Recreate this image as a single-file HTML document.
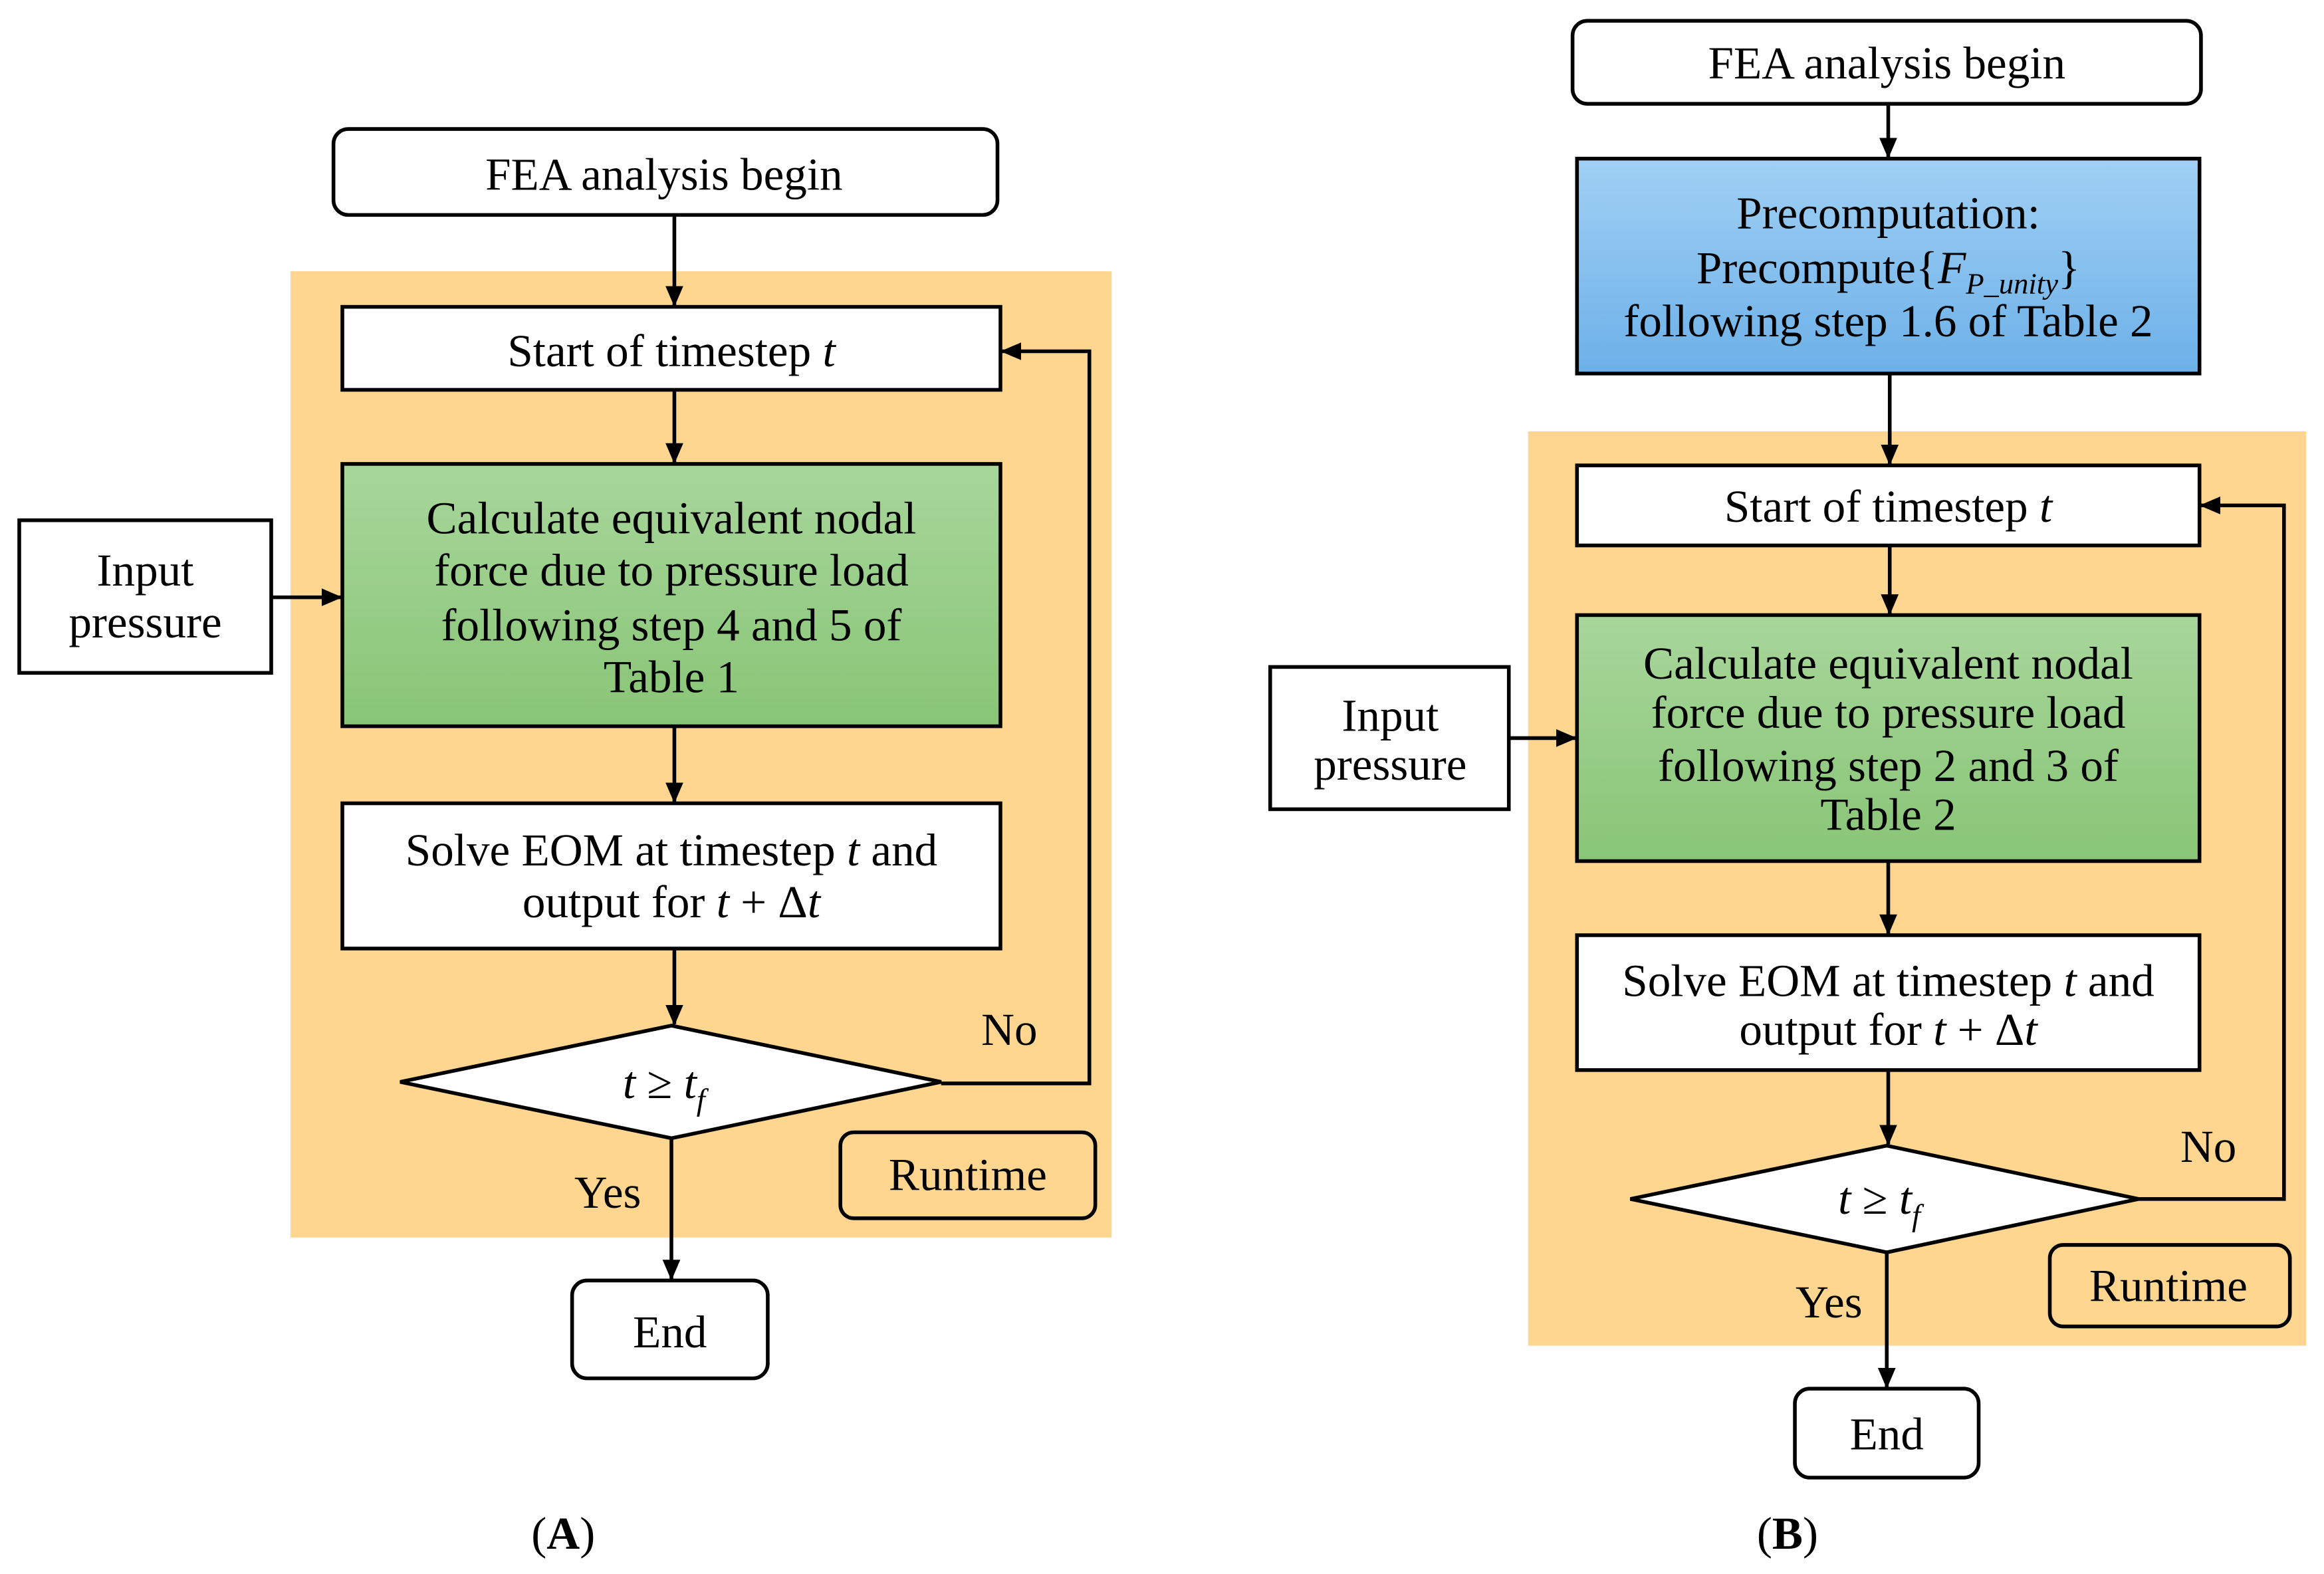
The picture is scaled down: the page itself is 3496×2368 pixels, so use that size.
<!DOCTYPE html>
<html><head><meta charset="utf-8"><style>
html,body{margin:0;padding:0;background:#fff;}
svg{display:block}
text{font-family:"Liberation Serif",serif;fill:#000}
</style></head><body>
<svg width="3496" height="2368" viewBox="0 0 1568 1062" xmlns="http://www.w3.org/2000/svg">
<defs>
<linearGradient id="g" x1="0" y1="0" x2="0" y2="1"><stop offset="0" stop-color="#A8D69B"/><stop offset="1" stop-color="#88C576"/></linearGradient>
<linearGradient id="b" x1="0" y1="0" x2="0" y2="1"><stop offset="0" stop-color="#A0D0F4"/><stop offset="1" stop-color="#6CB0E8"/></linearGradient>
<marker id="a" markerWidth="14" markerHeight="14" refX="13" refY="6" orient="auto" markerUnits="userSpaceOnUse"><path d="M0,0 L14,6 L0,12 z" fill="#000"/></marker>
</defs>
<g stroke="#000" stroke-width="2.5" fill="none">
<rect x="196" y="183" width="554" height="652" fill="#FED690" stroke="none"/>
<rect x="225" y="87" width="448" height="58" rx="10" fill="#fff"/>
<rect x="231" y="207" width="444" height="56" fill="#fff"/>
<rect x="231" y="313" width="444" height="177" fill="url(#g)"/>
<rect x="231" y="542" width="444" height="98" fill="#fff"/>
<polygon points="270,730 453,692 635,730 453,768" fill="#fff"/>
<rect x="567" y="764" width="172" height="58" rx="9" fill="none"/>
<rect x="386" y="864" width="132" height="66" rx="10" fill="#fff"/>
<rect x="13" y="351" width="170" height="103" fill="#fff"/>
<line x1="455" y1="145" x2="455" y2="206" marker-end="url(#a)"/>
<line x1="455" y1="263" x2="455" y2="312" marker-end="url(#a)"/>
<line x1="455" y1="490" x2="455" y2="541" marker-end="url(#a)"/>
<line x1="455" y1="640" x2="455" y2="691" marker-end="url(#a)"/>
<line x1="453" y1="768" x2="453" y2="863" marker-end="url(#a)"/>
<line x1="183" y1="403" x2="230" y2="403" marker-end="url(#a)"/>
<polyline points="635,731 735,731 735,237 676,237" marker-end="url(#a)"/>
<rect x="1031" y="291" width="525" height="617" fill="#FED690" stroke="none"/>
<rect x="1061" y="14" width="424" height="56" rx="10" fill="#fff"/>
<rect x="1064" y="107" width="420" height="145" fill="url(#b)"/>
<rect x="1064" y="314" width="420" height="54" fill="#fff"/>
<rect x="1064" y="415" width="420" height="166" fill="url(#g)"/>
<rect x="1064" y="631" width="420" height="91" fill="#fff"/>
<polygon points="1100,809 1273,773 1443,809 1273,845" fill="#fff"/>
<rect x="1383" y="840" width="162" height="55" rx="9" fill="none"/>
<rect x="1211" y="937" width="124" height="60" rx="10" fill="#fff"/>
<rect x="857" y="450" width="161" height="96" fill="#fff"/>
<line x1="1274" y1="70" x2="1274" y2="106" marker-end="url(#a)"/>
<line x1="1275" y1="252" x2="1275" y2="313" marker-end="url(#a)"/>
<line x1="1275" y1="368" x2="1275" y2="414" marker-end="url(#a)"/>
<line x1="1274" y1="581" x2="1274" y2="630" marker-end="url(#a)"/>
<line x1="1274" y1="722" x2="1274" y2="772" marker-end="url(#a)"/>
<line x1="1273" y1="845" x2="1273" y2="936" marker-end="url(#a)"/>
<line x1="1018" y1="498" x2="1063" y2="498" marker-end="url(#a)"/>
<polyline points="1443,809 1541,809 1541,341 1485,341" marker-end="url(#a)"/>
</g>
<g font-size="31" text-anchor="middle">
<text x="448" y="128">FEA analysis begin</text>
<text x="453" y="247">Start of timestep <tspan font-style="italic">t</tspan></text>
<text x="453" y="360">Calculate  equivalent nodal</text>
<text x="453" y="395">force due to pressure load</text>
<text x="453" y="432">following  step  4 and 5 of</text>
<text x="453" y="467">Table 1</text>
<text x="453" y="584">Solve EOM at timestep <tspan font-style="italic">t</tspan> and</text>
<text x="453" y="619">output for <tspan font-style="italic">t</tspan> + Δ<tspan font-style="italic">t</tspan></text>
<text x="448" y="741"><tspan font-style="italic">t</tspan> ≥ <tspan font-style="italic">t</tspan><tspan font-style="italic" font-size="21" dy="8">f</tspan></text>
<text x="653" y="803">Runtime</text>
<text x="452" y="909">End</text>
<text x="98" y="395">Input</text>
<text x="98" y="430">pressure</text>
<text x="681" y="705">No</text>
<text x="410" y="815">Yes</text>
<text x="380" y="1045"><tspan>(</tspan><tspan font-weight="bold">A</tspan><tspan>)</tspan></text>
<text x="1273" y="53">FEA analysis begin</text>
<text x="1274" y="154">Precomputation:</text>
<text x="1274" y="191">Precompute{<tspan font-style="italic">F</tspan><tspan font-style="italic" font-size="20" dy="7">P_unity</tspan><tspan dy="-7">}</tspan></text>
<text x="1274" y="227">following  step 1.6 of Table 2</text>
<text x="1274" y="352">Start of timestep <tspan font-style="italic">t</tspan></text>
<text x="1274" y="458">Calculate  equivalent nodal</text>
<text x="1274" y="491">force due to pressure load</text>
<text x="1274" y="527">following  step  2 and 3 of</text>
<text x="1274" y="560">Table 2</text>
<text x="1274" y="672">Solve EOM at timestep <tspan font-style="italic">t</tspan> and</text>
<text x="1274" y="705">output for <tspan font-style="italic">t</tspan> + Δ<tspan font-style="italic">t</tspan></text>
<text x="1268" y="819"><tspan font-style="italic">t</tspan> ≥ <tspan font-style="italic">t</tspan><tspan font-style="italic" font-size="21" dy="8">f</tspan></text>
<text x="1463" y="878">Runtime</text>
<text x="1273" y="978">End</text>
<text x="938" y="493">Input</text>
<text x="938" y="526">pressure</text>
<text x="1490" y="784">No</text>
<text x="1234" y="889">Yes</text>
<text x="1206" y="1045"><tspan>(</tspan><tspan font-weight="bold">B</tspan><tspan>)</tspan></text>
</g>
</svg>
</body></html>
